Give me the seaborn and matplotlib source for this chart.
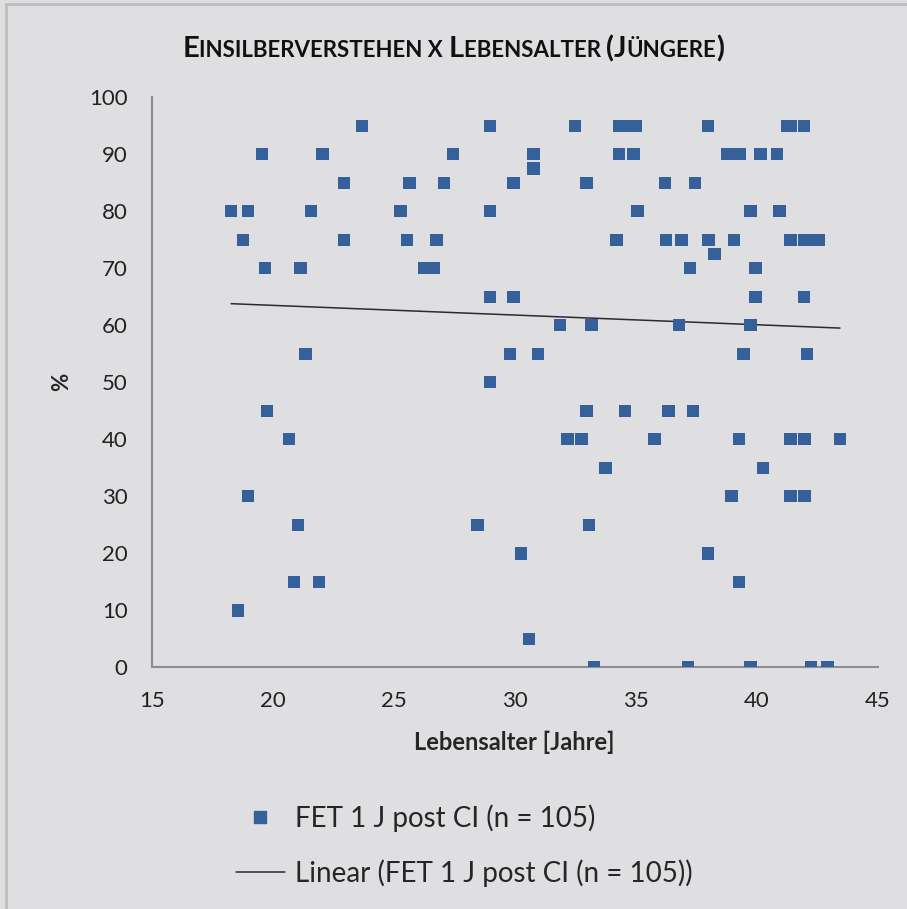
import numpy as np
import pandas as pd
import matplotlib
matplotlib.use("Agg")
import matplotlib.pyplot as plt
import seaborn as sns
from matplotlib.lines import Line2D
from matplotlib.patches import Rectangle

# age [years] and score [%]
age = [18.28, 18.98, 18.77, 19.56, 19.67, 19.76, 18.98, 18.57, 20.67, 21.05,
       20.88, 21.90, 21.15, 21.36, 21.57, 22.05, 22.95, 22.95, 23.69, 25.28,
       25.55, 25.65, 26.27, 26.65, 26.76, 27.08, 27.45, 28.46, 28.98, 28.98,
       28.98, 28.98, 29.95, 29.95, 29.80, 30.26, 30.58, 30.78, 30.78, 30.95,
       31.86, 32.18, 32.50, 32.76, 32.97, 32.97, 33.08, 33.18, 33.28, 33.76,
       34.20, 34.30, 34.90, 34.30, 34.65, 35.00, 34.56, 35.08, 35.77, 36.20,
       36.25, 36.35, 36.78, 36.90, 37.15, 37.25, 37.36, 37.45, 37.98, 38.00,
       37.99, 38.25, 38.80, 39.30, 38.95, 39.05, 39.28, 39.28, 39.45, 39.75,
       39.75, 39.74, 39.95, 39.95, 40.15, 40.26, 40.85, 40.95, 41.25, 41.40,
       41.95, 41.40, 41.95, 42.25, 42.55, 41.95, 42.07, 41.39, 41.97, 43.44,
       41.39, 41.97, 42.24, 42.93]
score = [80, 80, 75, 90, 70, 45, 30, 10, 40, 25,
         15, 15, 70, 55, 80, 90, 85, 75, 95, 80,
         75, 85, 70, 70, 75, 85, 90, 25, 95, 80,
         65, 50, 85, 65, 55, 20, 5, 90, 87.5, 55,
         60, 40, 95, 40, 45, 85, 25, 60, 0, 35,
         75, 90, 90, 95, 95, 95, 45, 80, 40, 85,
         75, 45, 60, 75, 0, 70, 45, 85, 95, 75,
         20, 72.5, 90, 90, 30, 75, 40, 15, 55, 80,
         60, 0, 70, 65, 90, 35, 90, 80, 95, 95,
         95, 75, 75, 75, 75, 65, 55, 40, 40, 40,
         30, 30, 0, 0]

series_label = "FET 1 J post CI (n = 105)"
trend_label = "Linear (FET 1 J post CI (n = 105))"

df = pd.DataFrame({"age": age, "score": score})

bg = "#DFDFE1"
blue = "#36609A"

sns.set_theme(style="white")
plt.rcParams["font.family"] = ["Lato", "DejaVu Sans"]

fig = plt.figure(figsize=(9.07, 9.09), dpi=100, facecolor=bg)
ax = fig.add_axes([0.1673, 0.2659, 0.8004, 0.6271], facecolor=bg)

sns.scatterplot(data=df, x="age", y="score", marker="s", s=80, color=blue,
                edgecolor="none", ax=ax, zorder=3)
sns.regplot(data=df, x="age", y="score", scatter=False, ci=None, ax=ax,
            line_kws={"color": "#2B2B2B", "lw": 1.1, "zorder": 2})

ax.set_xlim(15, 45)
ax.set_ylim(0, 100)
ax.set_xticks(range(15, 46, 5))
ax.set_yticks(range(0, 101, 10))
ax.tick_params(labelsize=16, labelcolor="#222222", length=6.3, width=1.3,
               direction="out", pad=11, color="#8E8E8E")
sns.despine(ax=ax)
for sp in ("left", "bottom"):
    ax.spines[sp].set_color("#8E8E8E")
    ax.spines[sp].set_linewidth(1.5)

ax.set_xlabel("Lebensalter [Jahre]", fontsize=17, fontweight="bold", labelpad=14)
ax.set_ylabel("%", fontsize=16, fontweight="bold", labelpad=12)

# legend below the plot
handles = [Line2D([], [], ls="none", marker="s", ms=8.5, color=blue),
           Line2D([], [], color="#2B2B2B", lw=1.1)]
fig.legend(handles, [series_label, trend_label], loc="upper left",
           bbox_to_anchor=(0.260, 0.115), frameon=False, fontsize=20,
           handlelength=1.76, handletextpad=0.36, labelspacing=0.97,
           borderaxespad=0, borderpad=0)

# title in small caps
pieces = [("E", 21), ("INSILBERVERSTEHEN X ", 16), ("L", 21),
          ("EBENSALTER ", 16), ("(J", 21), ("ÜNGERE", 16), (")", 21)]
texts = [fig.text(0, 0.937, s, fontsize=fs, fontweight="bold",
                  color="#111111", va="baseline") for s, fs in pieces]
fig.canvas.draw()
r = fig.canvas.get_renderer()
widths = [t.get_window_extent(r).width / fig.bbox.width for t in texts]
x = 0.5 - sum(widths) / 2
for t, w in zip(texts, widths):
    t.set_x(x)
    x += w

fig.patches.append(Rectangle((0.007, -0.01), 1.0, 1.006, transform=fig.transFigure,
                             fill=False, ec="#BDBDBD", lw=2))

fig.savefig("out.png", dpi=100, facecolor=bg)
